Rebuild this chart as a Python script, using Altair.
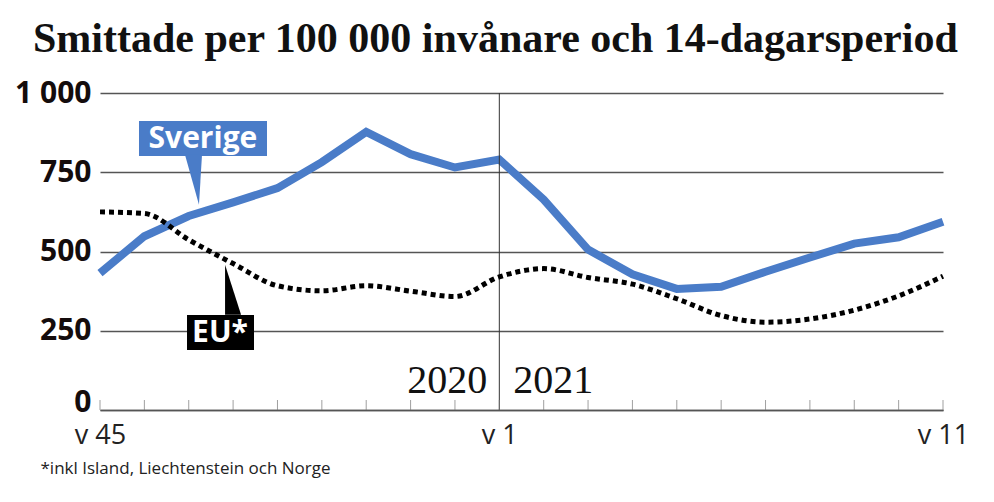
import altair as alt
import pandas as pd

# ---- data ----
weeks = ["45", "46", "47", "48", "49", "50", "51", "52", "53",
         "1", "2", "3", "4", "5", "6", "7", "8", "9", "10", "11"]
sverige = [432, 548, 612, 655, 700, 782, 877, 807, 765, 790,
           664, 506, 428, 382, 389, 436, 481, 525, 545, 594]
eu = [625, 620, 537, 462, 392, 376, 392, 375, 358, 420,
      446, 418, 397, 351, 298, 277, 287, 315, 360, 422]
y_ticks = [0, 250, 500, 750, 1000]
shown_weeks = ["45", "1", "11"]
years = ["2020", "2021"]
title_text = "Smittade per 100 000 invånare och 14-dagarsperiod"
footnote = "*inkl Island, Liechtenstein och Norge"

W, H = 843, 317
BLUE = "#4a7cc8"
SANS = "Open Sans"
NARROW = "'Liberation Sans Narrow', 'Open Sans'"
SERIF = "Liberation Serif"

idx = list(range(len(weeks)))
df = pd.DataFrame({"i": idx, "week": weeks, "Sverige": sverige, "EU": eu})
split_i = weeks.index("1")

label_expr = " : ".join(
    f"datum.value == {weeks.index(w)} ? 'v {w}'" for w in shown_weeks
) + " : ''"

x_scale = alt.Scale(domain=[0, len(weeks) - 1], nice=False, zero=False)
y_scale = alt.Scale(domain=[0, 1000], nice=False)

x_axis = alt.Axis(
    values=idx, labelExpr=label_expr, ticks=False, grid=False,
    domain=True, domainColor="#555", domainWidth=1.5,
    labelFont=NARROW, labelFontSize=27, labelColor="#222",
    labelPadding=12, labelFlush=False, labelOverlap=False,
    title=footnote, titleX=-60, titleY=58, titleAlign="left",
    titleBaseline="middle", titleFont=NARROW, titleFontSize=17,
    titleFontWeight="normal", titleColor="#222",
)
y_axis = alt.Axis(
    values=y_ticks, grid=True, gridColor="#555", gridWidth=1.3,
    domain=False, ticks=False, labelFont=SANS, labelFontWeight="bold",
    labelFontSize=30, labelColor="#140c0c", labelPadding=9,
    labelOffset={"condition": {"test": "datum.value === 0", "value": -8}, "value": 0},
    labelExpr="datum.value == 1000 ? '1 000' : datum.value", title=None,
)


def xq(f="i"):
    return alt.X(f"{f}:Q", scale=x_scale, axis=x_axis)


def yq(f):
    return alt.Y(f"{f}:Q", scale=y_scale, axis=y_axis)


base = alt.Chart(df)

sv_line = base.mark_line(color=BLUE, strokeWidth=8).encode(x=xq(), y=yq("Sverige"))

eu_line = base.mark_line(color="black", strokeWidth=5, strokeDash=[5, 4],
                         interpolate="monotone").encode(x=xq(), y=yq("EU"))

split_rule = alt.Chart(pd.DataFrame({"i": [split_i]})).mark_rule(
    color="#333", strokeWidth=1).encode(x=xq())

ticks = base.mark_tick(orient="vertical", size=10, thickness=1, color="#777").encode(
    x=xq(), y=alt.value(H - 5))

year_2020 = alt.Chart(pd.DataFrame({"i": [split_i], "v": [91], "t": [years[0]]})).mark_text(
    font=SERIF, fontSize=40, align="right", baseline="middle", dx=-12, color="#111"
).encode(x=xq(), y=yq("v"), text="t:N")
year_2021 = alt.Chart(pd.DataFrame({"i": [split_i], "v": [91], "t": [years[1]]})).mark_text(
    font=SERIF, fontSize=40, align="left", baseline="middle", dx=14, color="#111"
).encode(x=xq(), y=yq("v"), text="t:N")

# ---- labels (boxes with pointers) ----
boxes = pd.DataFrame({
    "x1": [0.879, 1.961], "x2": [3.764, 3.471],
    "y1": [912, 300], "y2": [801, 189],
    "c": [BLUE, "black"],
})
box_marks = alt.Chart(boxes).mark_rect().encode(
    x=xq("x1"), x2="x2:Q", y=yq("y1"), y2="y2:Q",
    color=alt.Color("c:N", scale=None),
)

sv_ptr = alt.Chart(pd.DataFrame({"x": [2.107], "y": [726]})).mark_point(
    shape="M -0.34 -1 L 0.34 -1 L 0.22 1 Z", size=2500, filled=True,
    opacity=1, color=BLUE, strokeWidth=0,
).encode(x=xq("x"), y=yq("y"))
eu_ptr = alt.Chart(pd.DataFrame({"x": [2.999], "y": [379]})).mark_point(
    shape="M -0.32 -1 L 0.32 1 L -0.32 1 Z", size=2500, filled=True,
    opacity=1, color="black", strokeWidth=0,
).encode(x=xq("x"), y=yq("y"))

lbl_text = alt.Chart(pd.DataFrame({"x": [2.32, 2.705], "y": [855, 243],
                                   "t": ["Sverige", "EU*"]})).mark_text(
    font=SANS, fontWeight="bold", fontSize=30, color="white",
    align="center", baseline="middle",
).encode(x=xq("x"), y=yq("y"), text="t:N")

title_mark = alt.Chart(pd.DataFrame({"t": [title_text]})).mark_text(
    font=SERIF, fontWeight="bold", fontSize=42, color="#111",
    align="left", baseline="alphabetic",
).encode(x=alt.value(-67), y=alt.value(-41), text="t:N")

chart = alt.layer(
    sv_line, split_rule, ticks, eu_line, year_2020, year_2021,
    box_marks, sv_ptr, eu_ptr, lbl_text, title_mark,
).properties(
    width=W, height=H,
    autosize=alt.AutoSizeParams(type="none"),
    padding={"left": 92, "top": 85, "right": 43, "bottom": 84},
    background="white",
).configure_view(stroke=None)

chart.save("out.html", embed_options={"renderer": "svg", "actions": False})
